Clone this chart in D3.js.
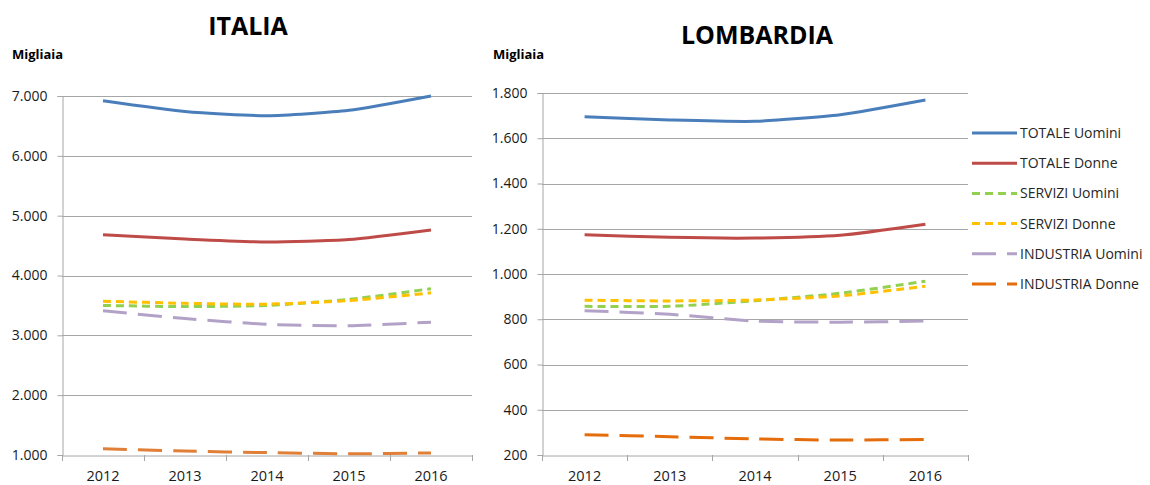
<!DOCTYPE html>
<html>
<head>
<meta charset="utf-8">
<script src="https://cdn.jsdelivr.net/npm/d3@7"></script>
<style>
  body { margin: 0; background: #fff; }
  svg { font-family: "Open Sans", sans-serif; }
</style>
</head>
<body>
<svg width="1150" height="485"></svg>
<script>
// categories
var years = ["2012", "2013", "2014", "2015", "2016"];
var seriesNames = ["TOTALE Uomini", "TOTALE Donne", "SERVIZI Uomini", "SERVIZI Donne", "INDUSTRIA Uomini", "INDUSTRIA Donne"];

// ITALIA (migliaia)
var itaTotUomini = [6920, 6740, 6670, 6760, 7000];
var itaTotDonne  = [4680, 4610, 4560, 4600, 4760];
var itaSerUomini = [3500, 3480, 3500, 3600, 3780];
var itaSerDonne  = [3570, 3535, 3520, 3580, 3710];
var itaIndUomini = [3410, 3280, 3185, 3160, 3220];
var itaIndDonne  = [1105, 1065, 1040, 1020, 1035];
var itaTicks = [1000, 2000, 3000, 4000, 5000, 6000, 7000];

// LOMBARDIA (migliaia)
var lomTotUomini = [1695, 1681, 1675, 1704, 1769];
var lomTotDonne  = [1174, 1162, 1159, 1171, 1220];
var lomSerUomini = [857, 857, 882, 915, 968];
var lomSerDonne  = [884, 881, 885, 903, 946];
var lomIndUomini = [838, 822, 792, 787, 792];
var lomIndDonne  = [290, 281, 271, 266, 269];
var lomTicks = [200, 400, 600, 800, 1000, 1200, 1400, 1600, 1800];

var colors = ["#4a7ebb", "#be4b48", "#92d050", "#ffc000", "#b3a2c7", "#e46c0a"];
var itaColors = ["#4a7ebb", "#be4b48", "#92d050", "#ffc000", "#b3a2c7", "#e07f38"];
var dashes = [null, null, "8,5", "8,5", "24,11", "24,11"];

var it = d3.formatLocale({decimal: ",", thousands: ".", grouping: [3], currency: ["", "€"]});
var fmt = it.format(",.0f");

var svg = d3.select("svg");

function drawChart(title, titleX, titleY, left, right, top, bottom, ticks, data, cols, migX) {
  var g = svg.append("g");

  var x = d3.scaleBand().domain(years).range([left, right]);
  var y = d3.scaleLinear().domain([ticks[0], ticks[ticks.length - 1]]).range([bottom, top]);

  // gridlines
  g.selectAll(".grid").data(ticks.slice(1)).enter().append("line")
      .attr("x1", left).attr("x2", right)
      .attr("y1", function(d) { return Math.round(y(d)) + 0.5; })
      .attr("y2", function(d) { return Math.round(y(d)) + 0.5; })
      .attr("stroke", "#a6a6a6").attr("stroke-width", 1);

  // y axis
  var yAxis = d3.axisLeft(y).tickValues(ticks).tickSize(5).tickPadding(10).tickFormat(fmt);
  var ya = g.append("g").attr("transform", "translate(" + (left + 0.5) + ",0)").call(yAxis);
  ya.select(".domain").attr("stroke", "#a6a6a6");
  ya.selectAll(".tick line").attr("stroke", "#a6a6a6");
  ya.selectAll("text").attr("font-size", 14).attr("fill", "#1a1a1a").attr("font-family", "Open Sans, sans-serif");

  // x axis
  var xa = g.append("g").attr("transform", "translate(0," + (Math.round(bottom) + 0.5) + ")")
      .call(d3.axisBottom(x).tickSize(0).tickPadding(15));
  xa.select(".domain").attr("stroke", "#a6a6a6");
  xa.selectAll("text").attr("font-size", 14.5).attr("fill", "#1a1a1a").attr("font-family", "Open Sans, sans-serif");
  g.selectAll(".xtick").data(years.concat(["end"])).enter().append("line")
      .attr("x1", function(d, i) { return Math.round(left + i * x.step()) + 0.5; })
      .attr("x2", function(d, i) { return Math.round(left + i * x.step()) + 0.5; })
      .attr("y1", bottom).attr("y2", bottom + 6)
      .attr("stroke", "#a6a6a6");

  var line = d3.line()
      .x(function(d, i) { return x(years[i]) + x.bandwidth() / 2; })
      .y(function(d) { return y(d); })
      .curve(d3.curveCardinal.tension(0.4));

  g.selectAll(".series").data(data).enter().append("path")
      .attr("d", function(d) { return line(d); })
      .attr("fill", "none")
      .attr("stroke", function(d, i) { return cols[i]; })
      .attr("stroke-width", 3)
      .attr("stroke-dasharray", function(d, i) { return dashes[i]; });

  g.append("text").attr("x", titleX).attr("y", titleY)
      .attr("text-anchor", "middle").attr("font-size", 25).attr("font-weight", "bold")
      .text(title);

  g.append("text").attr("x", migX).attr("y", 59)
      .attr("font-size", 13).attr("font-weight", "bold")
      .text("Migliaia");
}

drawChart("ITALIA", 248, 35, 62, 472, 96, 455, itaTicks,
  [itaTotUomini, itaTotDonne, itaSerUomini, itaSerDonne, itaIndUomini, itaIndDonne], itaColors, 12);
drawChart("LOMBARDIA", 757, 44, 542, 968, 93, 455, lomTicks,
  [lomTotUomini, lomTotDonne, lomSerUomini, lomSerDonne, lomIndUomini, lomIndDonne], colors, 493);

// legend
var legend = svg.append("g").attr("transform", "translate(972,133)");
var row = legend.selectAll(".row").data(seriesNames).enter().append("g")
    .attr("transform", function(d, i) { return "translate(0," + (i * 30.2) + ")"; });
row.append("line")
    .attr("x1", 0).attr("x2", 45).attr("y1", 0).attr("y2", 0)
    .attr("stroke", function(d, i) { return colors[i]; })
    .attr("stroke-width", 3)
    .attr("stroke-dasharray", function(d, i) { return dashes[i]; });
row.append("text")
    .attr("x", 48).attr("y", 5)
    .attr("font-size", 14).attr("fill", "#262626")
    .text(function(d) { return d; });
</script>
</body>
</html>
